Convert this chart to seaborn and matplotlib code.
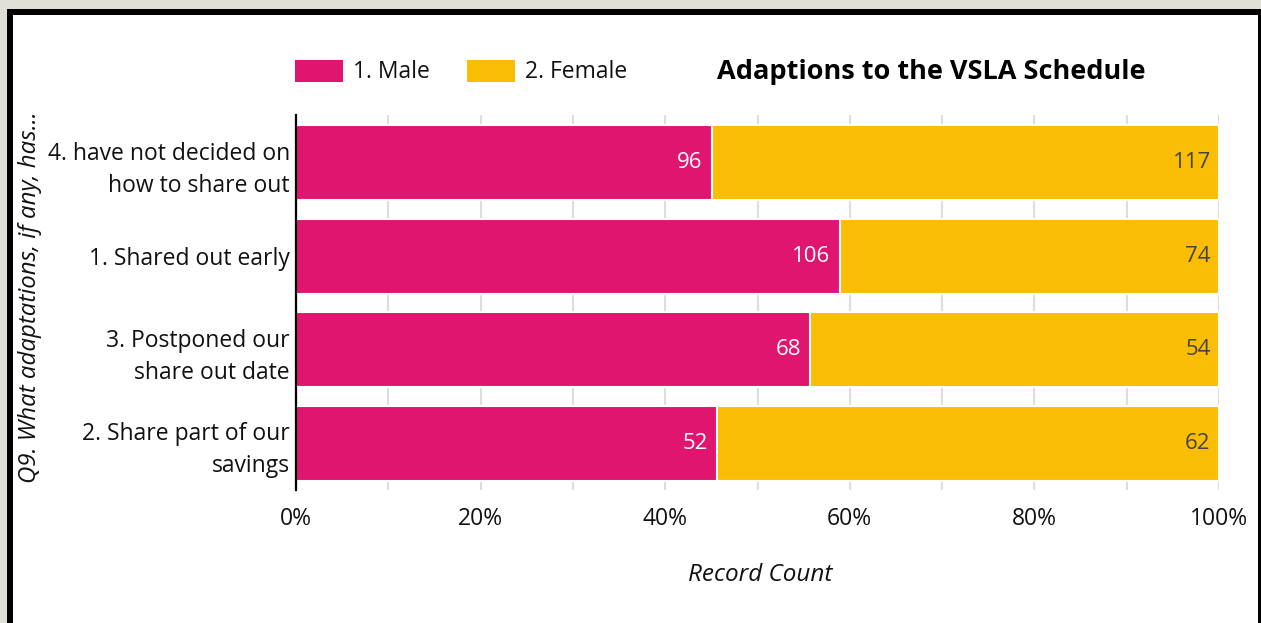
import numpy as np
import pandas as pd
import matplotlib.pyplot as plt
from matplotlib.patches import Patch, Rectangle
import seaborn as sns

# Data
categories = ["4. have not decided on\nhow to share out",
              "1. Shared out early",
              "3. Postponed our\nshare out date",
              "2. Share part of our\nsavings"]
male_counts = [96, 106, 68, 52]
female_counts = [117, 74, 54, 62]
series_names = ["1. Male", "2. Female"]
tick_values = [0, 20, 40, 60, 80, 100]
tick_labels = ["0%", "20%", "40%", "60%", "80%", "100%"]

MALE_COLOR = "#E0156F"
FEMALE_COLOR = "#F9BE04"
BG_COLOR = "#E0E0D6"

df = pd.DataFrame({"answer": categories, "male": male_counts, "female": female_counts})
df["total"] = df["male"] + df["female"]
df["male_pct"] = df["male"] / df["total"] * 100
df["full_pct"] = 100.0

sns.set_theme(style="white")
plt.rcParams["font.family"] = ["Open Sans", "DejaVu Sans"]

W, H = 1261, 623
fig = plt.figure(figsize=(W / 100, H / 100), dpi=100, facecolor=BG_COLOR)

# white card with black frame (behind the axes)
fig.patches.append(Rectangle((10 / W, -0.1), (1261 - 10) / W, 1.1 - 12 / H,
                             transform=fig.transFigure, facecolor="white",
                             edgecolor="black", linewidth=4.3, zorder=-5))

ax = fig.add_axes([296 / W, 1 - 490 / H, (1219 - 296) / W, (490 - 115) / H])
ax.set_facecolor("none")

# female share drawn as full bar, male share on top of it
sns.barplot(data=df, y="answer", x="full_pct", color=FEMALE_COLOR, saturation=1,
            width=0.8, edgecolor="white", linewidth=1.5, ax=ax, zorder=2)
sns.barplot(data=df, y="answer", x="male_pct", color=MALE_COLOR, saturation=1,
            width=0.8, edgecolor="white", linewidth=1.5, ax=ax, zorder=3)

# value labels
for i, row in df.iterrows():
    ax.text(row["male_pct"] - 1.0, i, str(row["male"]), ha="right", va="center",
            color="white", fontsize=16, zorder=4)
    ax.text(100 - 0.9, i, str(row["female"]), ha="right", va="center",
            color="#444444", fontsize=16, zorder=4)

ax.set_xlim(0, 100)
ax.set_ylim(3.5, -0.51)
ax.set_xticks(tick_values)
ax.set_xticklabels(tick_labels)
ax.set_xticks(np.arange(10, 100, 10), minor=True)
ax.grid(axis="x", which="both", color="#DDDDDD", linewidth=1.5, zorder=0)
ax.set_axisbelow(True)
ax.tick_params(axis="x", which="both", length=0, pad=12, labelsize=16.5, colors="#111111")
ax.tick_params(axis="y", length=0, pad=4.5, labelsize=16.5, colors="#111111")
for lbl in ax.get_yticklabels():
    lbl.set_linespacing(1.45)
    lbl.set_ha("right")
    lbl.set_multialignment("right")

for side in ["top", "right", "bottom"]:
    ax.spines[side].set_visible(False)
ax.spines["left"].set_color("black")
ax.spines["left"].set_linewidth(1.6)
ax.spines["left"].set_zorder(5)
ax.set_xlabel("")
ax.set_ylabel("")

fig.text(760 / W, 1 - 575 / H, "Record Count", ha="center", va="center",
         fontsize=17.5, style="italic", color="#111111")
fig.text(30 / W, 1 - 297 / H, "Q9. What adaptations, if any, has...", ha="center",
         va="center", rotation=90, fontsize=17.3, style="italic", color="#111111")
fig.text(931 / W, 1 - 72 / H, "Adaptions to the VSLA Schedule", ha="center",
         va="center", fontsize=19.5, fontweight="bold", color="black")

handles = [Patch(facecolor=MALE_COLOR, edgecolor="none"),
           Patch(facecolor=FEMALE_COLOR, edgecolor="none")]
fig.legend(handles, series_names, loc="center left",
           bbox_to_anchor=(295 / W, 1 - 72 / H), ncol=2, frameon=False,
           fontsize=16.5, handlelength=2.1, handleheight=1.1,
           handletextpad=0.45, columnspacing=1.6, borderpad=0, borderaxespad=0,
           labelcolor="#111111")

fig.savefig("out.png", dpi=100, facecolor=BG_COLOR)
